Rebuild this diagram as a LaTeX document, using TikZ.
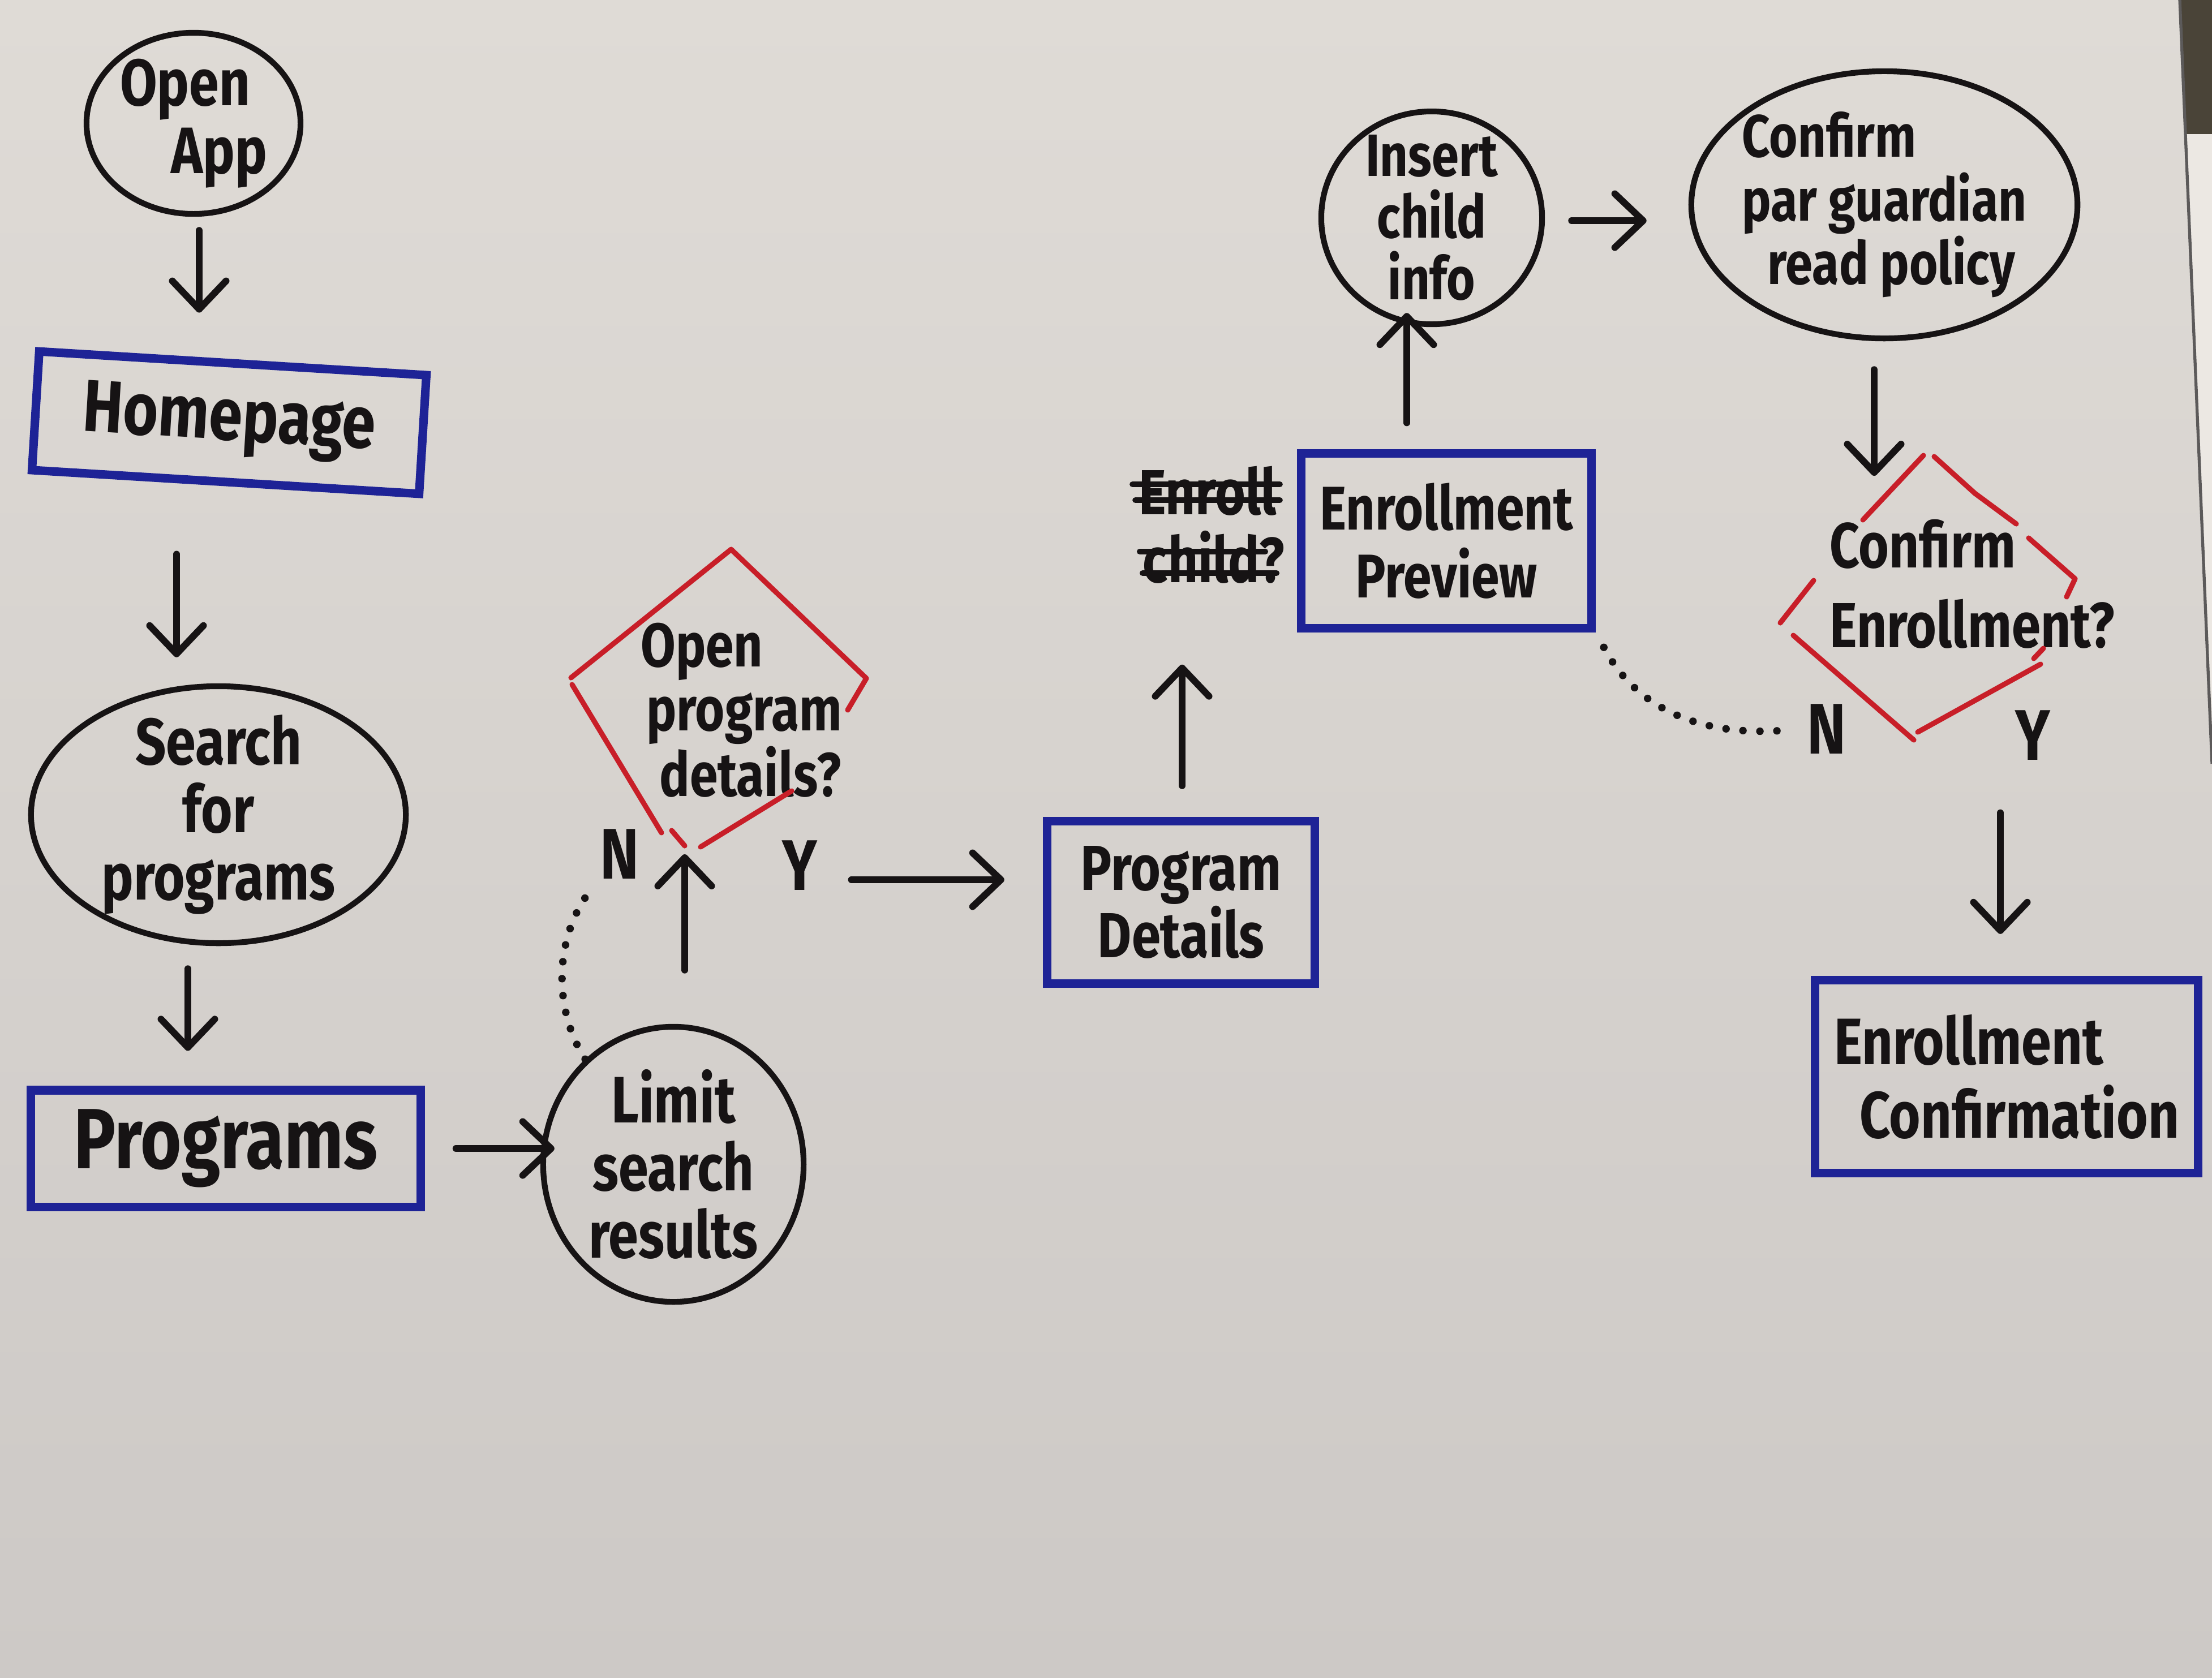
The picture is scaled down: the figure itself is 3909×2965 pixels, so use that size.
\documentclass[tikz,border=0pt]{standalone}
\usepackage{fontspec}
\setmainfont{Fira Sans}[FakeStretch=0.82]
\usetikzlibrary{arrows.meta,calc,shapes.geometric}

\definecolor{paper}{HTML}{DFDBD6}
\definecolor{paperlow}{HTML}{CDC9C6}
\definecolor{ink}{HTML}{161314}
\definecolor{marker}{HTML}{1E2396}
\definecolor{redink}{HTML}{C81E28}
\definecolor{tabletop}{HTML}{4A4438}
\definecolor{sheet}{HTML}{ECE8E3}

\newcommand\fsz[2]{\fontsize{#1}{#2}\selectfont}

\begin{document}
\begin{tikzpicture}[x=0.01cm, y=-0.01cm,
  lbl/.style={text=ink, font=\bfseries, inner sep=0pt},
  oval/.style={lbl, ellipse, draw=ink, line width=2.9pt, inner sep=-2cm},
  screen/.style={lbl, rectangle, draw=marker, line width=4.3pt},
  yn/.style={lbl, inner sep=0.05cm, font=\bfseries\fsz{36}{36}},
  arr/.style={draw=ink, line width=3.4pt, line cap=round,
    -{Straight Barb[length=0.5cm,width=0.95cm,round]}},
  dots/.style={draw=ink, line width=3.8pt, line cap=round, dash pattern=on 0pt off 0.3cm},
  redline/.style={draw=redink, line width=2.6pt, line cap=round, line join=round},
  strike/.style={draw=ink, line width=3pt, line cap=round}
]
\useasboundingbox (0,0) rectangle (3909,2965);
\shade[top color=paper, bottom color=paperlow] (0,0) rectangle (3909,2965);
% table and a second sheet beyond the paper edge
\fill[tabletop] (3852,0) -- (3909,0) -- (3909,237) -- (3862,237) -- cycle;
\fill[sheet] (3862,237) -- (3909,237) -- (3909,1350) -- cycle;
\draw[line width=1.5pt, color=ink!70] (3852,0) -- (3909,1350);

% ---------- left column ----------
\node[oval, minimum width=3.78cm, minimum height=3.2cm, align=left,
      font=\bfseries\fsz{33}{34}] (openapp) at (342,218) {Open\\\hspace*{0.9cm}App};
\node[screen, minimum width=6.85cm, minimum height=2.1cm, rotate=-3.5,
      font=\bfseries\fsz{37}{40}] (home) at (405,747) {Homepage};
\node[oval, minimum width=6.62cm, minimum height=4.54cm, align=center,
      font=\bfseries\fsz{33}{34}] (search) at (386,1440) {Search\\for\\programs};
\node[screen, minimum width=6.88cm, minimum height=2.06cm,
      font=\bfseries\fsz{43}{40}] (programs) at (399,2030) {Programs};
\node[oval, minimum width=4.6cm, minimum height=4.86cm, align=center,
      font=\bfseries\fsz{33}{34}] (limit) at (1190,2058) {Limit\\search\\results};

% ---------- first decision ----------
\node[lbl, align=left, font=\bfseries\fsz{31}{32}] (d1) at (1310,1255)
  {Open\\\hspace*{0.1cm}program\\\hspace*{0.33cm}details?};
\coordinate (d1t) at (1292,971);
\coordinate (d1l) at (1009,1198);
\coordinate (d1r) at (1531,1199);
\coordinate (d1b) at (1215,1497);
\draw[redline] (d1l) -- (d1t) -- (d1r) -- (1498,1255);
\draw[redline] (1011,1210) -- (1169,1472);
\draw[redline] (1187,1468) -- (1210,1495);
\draw[redline] (1238,1497) -- (1399,1398);
\node[yn] (n1) at (1095,1510) {N};
\node[yn] (y1) at (1413,1530) {Y};

% ---------- middle ----------
\node[screen, minimum width=4.73cm, minimum height=2.87cm, align=center,
      font=\bfseries\fsz{32}{34}] (pd) at (2087,1595) {Program\\Details};
\node[screen, minimum width=5.13cm, minimum height=3.08cm, align=center,
      font=\bfseries\fsz{31}{34}] (ep) at (2556,956) {Enrollment\\Preview};
\node[lbl, font=\bfseries\fsz{32}{32}] (old1) at (2134,868) {Enroll};
\node[lbl, font=\bfseries\fsz{32}{32}] (old2) at (2145,985) {child?};
\draw[strike] ([xshift=-0.1cm]old1.west |- 0,856) -- ([xshift=0.05cm]old1.east |- 0,856);
\draw[strike] ([xshift=-0.05cm]old1.west |- 0,884) -- ([xshift=0.05cm]old1.east |- 0,884);
\draw[strike] ([xshift=-0.05cm]old2.west |- 0,975) -- ([xshift=-0.35cm]old2.east |- 0,975);
\draw[strike] ([xshift=0cm]old2.west |- 0,1013) -- ([xshift=-0.15cm]old2.east |- 0,1013);
\node[oval, minimum width=3.9cm, minimum height=3.76cm, align=center,
      font=\bfseries\fsz{30}{31}] (insert) at (2530,385) {Insert\\child\\info};
\node[oval, minimum width=6.82cm, minimum height=4.72cm, align=left,
      font=\bfseries\fsz{30}{32}] (policy) at (3330,362)
  {Confirm\\par guardian\\\hspace*{0.45cm}read policy};

% ---------- second decision ----------
\node[lbl, align=left, font=\bfseries\fsz{32}{40}] (d2) at (3485,1032)
  {Confirm\\Enrollment?};
\coordinate (d2t) at (3408,805);
\draw[redline] (3399,805) -- (3292,919);
\draw[redline] (3418,807) -- (3490,872) -- (3563,926);
\draw[redline] (3585,951) -- (3667,1023) -- (3652,1055);
\draw[redline] (3205,1026) -- (3146,1101);
\draw[redline] (3169,1123) -- (3382,1308);
\draw[redline] (3389,1294) -- (3606,1174);
\draw[redline] (3611,1146) -- (3594,1164);
\node[yn] (n2) at (3228,1289) {N};
\node[yn] (y2) at (3592,1300) {Y};
\node[screen, minimum width=6.76cm, minimum height=3.41cm, align=left,
      font=\bfseries\fsz{33}{37}] (ec) at (3546,1903)
  {Enrollment\\\hspace*{0.45cm}Confirmation};

% ---------- connectors ----------
\draw[arr, shorten <=0.24cm, shorten >=0.82cm] (openapp.south -| 352,0) -- (home.north -| 352,0);
\draw[arr, shorten <=1.2cm, shorten >=0.46cm] (home.south -| 312,0) -- (search.north -| 312,0);
\draw[arr, shorten <=0.4cm, shorten >=0.62cm] (search.south -| 332,0) -- (programs.north -| 332,0);
\draw[arr, shorten <=0.55cm, shorten >=-0.25cm] (programs.east) -- (programs.east -| limit.west);
\draw[arr, shorten <=0.95cm, shorten >=0.13cm] (limit.north -| 1210,0) -- (d1b -| 1210,0);
\draw[dots, shorten >=0.1cm] (limit.130) .. controls (975,1780) and (980,1650) .. (n1.south west);
\draw[arr, shorten <=0.55cm, shorten >=0.68cm] (y1.east |- 0,1555) -- (pd.west |- 0,1555);
\draw[arr, shorten <=0.55cm, shorten >=0.57cm] (pd.north -| 2089,0) -- (ep.south -| 2089,0);
\draw[arr, shorten <=0.47cm, shorten >=-0.25cm] (ep.north -| 2486,0) -- (insert.south -| 2486,0);
\draw[arr, shorten <=0.47cm, shorten >=0.74cm] (insert.east |- 0,390) -- (policy.west |- 0,390);
\draw[arr, shorten <=0.5cm, shorten >=-0.36cm] (policy.south -| 3312,0) -- (d2t -| 3312,0);
\draw[dots, shorten <=0.3cm, shorten >=0.45cm] (ep.south east) .. controls (2890,1250) and (3000,1300) .. (n2.west);
\draw[arr, shorten <=0.87cm, shorten >=0.74cm] (y2.south -| 3535,0) -- (ec.north -| 3535,0);
\end{tikzpicture}
\end{document}
